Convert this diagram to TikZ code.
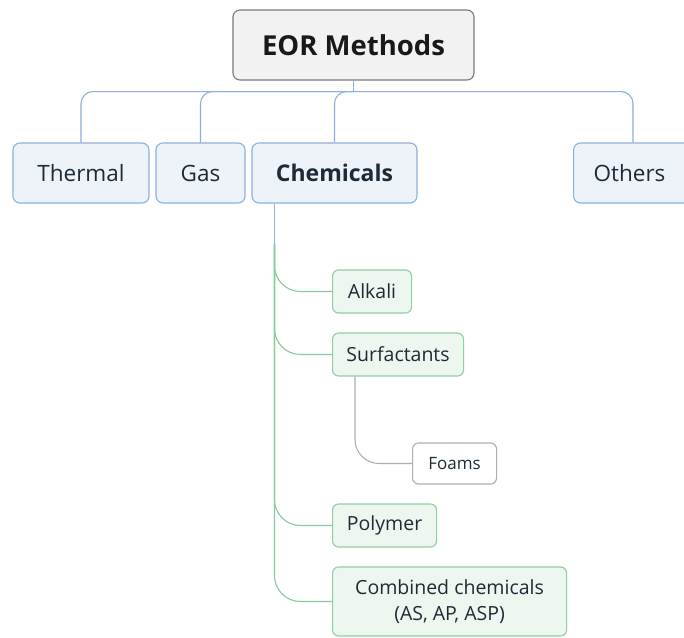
\documentclass[tikz,border=0pt]{standalone}
\usepackage{fontspec}
\setmainfont{Open Sans}
\usetikzlibrary{calc}
\definecolor{rootfill}{HTML}{F2F2F2}
\definecolor{rootdraw}{HTML}{7A7A7A}
\definecolor{bluefill}{HTML}{EEF3FA}
\definecolor{bluedraw}{HTML}{8DB0DD}
\definecolor{greenfill}{HTML}{EDF6EF}
\definecolor{greendraw}{HTML}{8CD0A4}
\definecolor{greenline}{HTML}{84CC9E}
\definecolor{greyline}{HTML}{AFAFAF}
\definecolor{txt}{HTML}{1E2B36}
\tikzset{
  box/.style={rounded corners=7pt, line width=1.1pt, inner sep=0pt, align=center, text=txt},
  rootbox/.style={box, fill=rootfill, draw=rootdraw, font=\fontsize{27.5}{32}\selectfont\bfseries, text=black!90},
  mainbox/.style={box, fill=bluefill, draw=bluedraw, font=\fontsize{22.5}{27}\selectfont},
  subbox/.style={box, fill=greenfill, draw=greendraw, font=\fontsize{19.5}{26}\selectfont, rounded corners=6pt},
  leafbox/.style={box, fill=white, draw=greyline, font=\fontsize{17}{22}\selectfont, rounded corners=6pt},
  blink/.style={draw=bluedraw, line width=1.1pt},
  glink/.style={draw=greenline, line width=1.1pt},
  ylink/.style={draw=greyline, line width=1.1pt},
}
\begin{document}
\begin{tikzpicture}[x=1pt,y=-1pt]
\useasboundingbox (0,0) rectangle (684,637);
\fill[white] (0,0) rectangle (684,637);

% top level
\node[rootbox, minimum width=241pt, minimum height=70pt] (root) at (353.5,45) {EOR Methods};
\node[mainbox, minimum width=136pt, minimum height=60pt] (thermal) at (81,173) {Thermal};
\node[mainbox, minimum width=89pt, minimum height=60pt] (gas) at (200.5,173) {Gas};
\node[mainbox, minimum width=165pt, minimum height=60pt, font=\fontsize{23}{27}\selectfont\bfseries] (chem) at (334.5,173) {Chemicals};
\node[mainbox, minimum width=130pt, minimum height=60pt, anchor=west] (others) at (573,173) {\hspace*{-18pt}Others};

% chemical sub-types
\node[subbox, minimum width=79pt, minimum height=43pt, anchor=west] (alkali) at (332,291.5) {Alkali};
\node[subbox, minimum width=131pt, minimum height=43pt, anchor=west] (surf) at (332,354.5) {Surfactants};
\node[leafbox, minimum width=84pt, minimum height=41pt, anchor=west] (foams) at (412,463.5) {Foams};
\node[subbox, minimum width=104pt, minimum height=43pt, anchor=west] (poly) at (332,525.5) {Polymer};
\node[subbox, minimum width=234pt, minimum height=69pt, anchor=west] (comb) at (332,601.5) {Combined chemicals\\(AS, AP, ASP)};

% root to main branches
\coordinate (bus) at ($(root.south)+(0,11)$);
\draw[blink] (root.south) -- (bus);
\draw[blink, rounded corners=12pt] (bus) -| (thermal.north);
\draw[blink, rounded corners=12pt] (bus) -| (gas.north);
\draw[blink, rounded corners=12pt] (bus) -| (chem.north);
\draw[blink, rounded corners=12pt] (bus) -| (others.north -| 633,0);

% chemicals trunk
\coordinate (ct) at ($(chem.south west)+(23,0)$);
\coordinate (cg) at ($(ct)+(0,40)$);
\draw[glink, rounded corners=26pt] (cg) |- (alkali.west);
\draw[glink, rounded corners=26pt] (cg) |- (surf.west);
\draw[glink, rounded corners=26pt] (cg) |- (poly.west);
\draw[glink, rounded corners=26pt] (cg) |- (comb.west);
\draw[blink] (ct) -- (cg);

% surfactants to foams
\coordinate (sf) at ($(surf.south west)+(23,0)$);
\draw[ylink, rounded corners=24pt] (sf) |- (foams.west);
\end{tikzpicture}
\end{document}
